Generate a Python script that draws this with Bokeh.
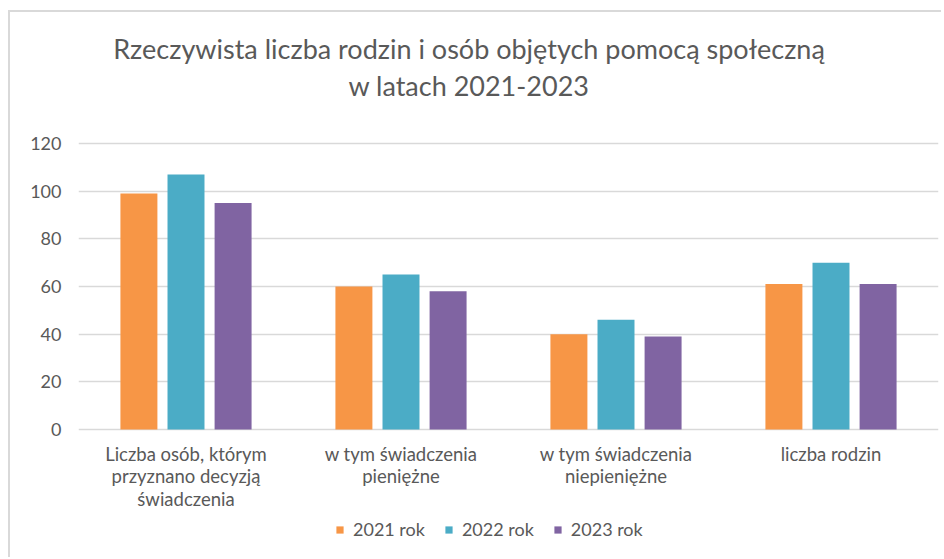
from bokeh.plotting import figure
from bokeh.models import FactorRange, ColumnDataSource, Legend, LegendItem
from bokeh.core.properties import value
from bokeh.transform import dodge
from bokeh.embed import file_html
from bokeh.resources import INLINE

categories = ["Liczba osób, którym\nprzyznano decyzją\nświadczenia",
              "w tym świadczenia\npieniężne",
              "w tym świadczenia\nniepieniężne",
              "liczba rodzin"]
series_names = ["2021 rok", "2022 rok", "2023 rok"]
v2021 = [99, 60, 40, 61]
v2022 = [107, 65, 46, 70]
v2023 = [95, 58, 39, 61]
colors = ["#F79646", "#4BACC6", "#8064A2"]
yticks = [0, 20, 40, 60, 80, 100, 120]
title_lines = ["Rzeczywista liczba rodzin i osób objętych pomocą społeczną",
               "w latach 2021-2023"]

FONT = "Lato"
GRAY = "#595959"

# page geometry (pixels) -> data coordinates
PX_LEFT, PX_CAT = 79, 215          # frame left, width of one category
PX_ZERO, PX_PER_UNIT = 429, 286 / 120
PX_FIG_TOP, PX_FIG_BOTTOM = 12, 559


def y_at(px):
    return (PX_ZERO - px) / PX_PER_UNIT


def x_at(px):
    return (px - PX_LEFT) / PX_CAT


src = ColumnDataSource(dict(cat=categories, a=v2021, b=v2022, c=v2023))

p = figure(x_range=FactorRange(*categories),
           y_range=(y_at(PX_FIG_BOTTOM), y_at(PX_FIG_TOP)),
           width=933, height=547, output_backend="svg", toolbar_location=None,
           x_axis_location=None,
           min_border_left=68, min_border_right=5, min_border_top=0,
           min_border_bottom=0)
p.styles = {"margin-left": "8px", "margin-top": "10px",
            "border-top": "2px solid #d9d9d9", "border-left": "2px solid #d9d9d9"}

renderers = []
for key, off, col in zip(["a", "b", "c"], [-0.219, 0.0, 0.219], colors):
    r = p.vbar(x=dodge("cat", off, range=p.x_range), top=key, width=0.172,
               source=src, fill_color=col, line_color=None)
    renderers.append(r)

p.outline_line_color = None
p.background_fill_color = "white"
p.border_fill_color = "white"

p.xgrid.grid_line_color = None
p.ygrid.grid_line_color = "#D9D9D9"
p.ygrid.grid_line_width = 1.5
p.yaxis.ticker = yticks
p.yaxis.axis_line_color = None
p.yaxis.major_tick_line_color = None
p.yaxis.minor_tick_line_color = None
p.yaxis.major_tick_out = 0
p.yaxis.major_tick_in = 0
p.yaxis.major_label_text_font = FONT
p.yaxis.major_label_text_font_size = "18px"
p.yaxis.major_label_text_color = GRAY
p.yaxis.major_label_standoff = 17

# title (two centred lines)
p.text(x=[x_at(469.5)] * 2, y=[y_at(48), y_at(85)], text=title_lines,
       text_align="center", text_baseline="middle", text_font=value(FONT),
       text_font_size="27px", text_color=GRAY)

# category labels under the bars
p.text(x=categories, y=[y_at(442)] * len(categories), text=categories,
       text_align="center", text_baseline="top", text_font=value(FONT),
       text_font_size="18.5px", text_line_height=1.03, text_color=GRAY)

legend = Legend(items=[LegendItem(label=n, renderers=[r]) for n, r in zip(series_names, renderers)],
                orientation="horizontal", location=(257, 19),
                label_text_font=FONT, label_text_font_size="18px",
                label_text_color=GRAY, glyph_width=9, glyph_height=9,
                label_height=18, spacing=19, label_standoff=9,
                border_line_color=None, background_fill_alpha=0,
                margin=0, padding=0)
p.add_layout(legend, "center")

open("out.html", "w").write(file_html(p, INLINE))
